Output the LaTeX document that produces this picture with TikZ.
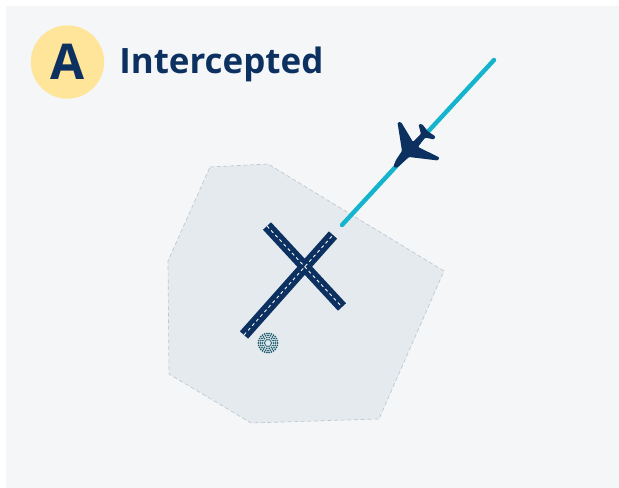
\documentclass[tikz,border=0pt]{standalone}
\usepackage{fontspec}
\setmainfont{Open Sans}
\usetikzlibrary{positioning}
\definecolor{navy}{HTML}{0C3060}
\definecolor{panelbg}{HTML}{F4F6F8}
\definecolor{zonefill}{HTML}{E5EAEE}
\definecolor{zoneline}{HTML}{BCC8D2}
\definecolor{badgefill}{HTML}{FFE59A}
\definecolor{approach}{HTML}{14B4CC}
\definecolor{dotcol}{HTML}{1F5F72}

\begin{document}
\begin{tikzpicture}[
  x=0.75pt, y=-0.75pt,
  badge/.style={circle, fill=badgefill, minimum size=55pt, inner sep=0pt, text=navy, font=\fontsize{37}{37}\selectfont\bfseries},
  heading/.style={text=navy, inner sep=0pt, font=\fontsize{26.2}{30}\selectfont\bfseries},
  zone/.style={draw=zoneline, densely dashed, line width=0.5pt, fill=zonefill},
  runway/.style={draw=navy, line width=8.2pt},
  centreline/.style={draw=white, line width=0.65pt, dash pattern=on 2.4pt off 2.2pt},
  path/.style={draw=approach, line width=3.3pt, line cap=round},
  plane/.style={fill=navy, rounded corners=0.8pt}
]
\useasboundingbox (0,0) rectangle (619,488);
\fill[white] (0,0) rectangle (619,488);
\fill[panelbg] (6,6) rectangle (619,488);

% --- heading ---
\node[badge] (letter) at (67.5,62) {A};
\node[heading, anchor=west] (title) at (119,64) {Intercepted};

% --- airport zone ---
\draw[zone] (210,167) -- (268,164) -- (444,271) -- (379,419) -- (251,423) -- (169,374) -- (168,261) -- cycle;

% --- runways ---
\coordinate (rwyAa) at (244,335);
\coordinate (rwyAb) at (333,235);
\coordinate (rwyBa) at (267,226);
\coordinate (rwyBb) at (342,307);
\draw[runway] (rwyAa) -- (rwyAb);
\draw[runway] (rwyBa) -- (rwyBb);
\draw[centreline] (rwyAa) -- (rwyAb);
\draw[centreline] (rwyBa) -- (rwyBb);

% --- beacon ---
\foreach \r/\n in {3.4/10, 5.6/14, 7.6/20, 9.6/26}
  \foreach \i in {1,...,\n}
    \fill[dotcol] ({268+\r*cos(360*\i/\n)},{343+\r*sin(360*\i/\n)}) circle (0.72pt);

% --- approach path ---
\coordinate (pathend) at (342,225);
\coordinate (pathstart) at (494,60);
\draw[path] (pathend) -- (pathstart);

% --- aircraft ---
\fill[plane] (393.5,166) -- (396,160) -- (402,151) -- (397.5,122.5) -- (401,122) -- (413,142) -- (421,134)
  -- (418.5,124.5) -- (422,124) -- (428,131.5) -- (435.5,136.5) -- (434,139.5) -- (425,137.5) -- (418,147)
  -- (439.5,157.5) -- (438,160.5) -- (409,157) -- (398,167) -- (395,168) -- cycle;
\end{tikzpicture}
\end{document}
